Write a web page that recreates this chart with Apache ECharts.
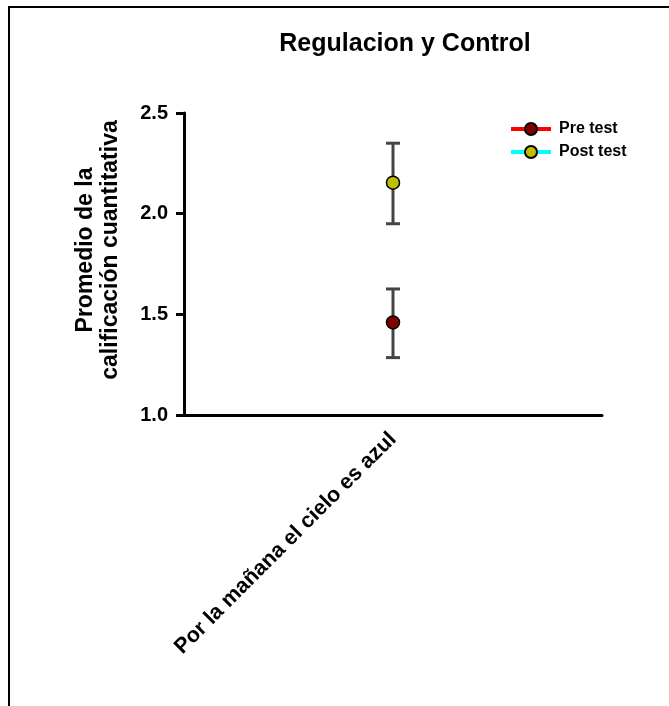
<!DOCTYPE html>
<html>
<head>
<meta charset="utf-8">
<script src="https://cdn.jsdelivr.net/npm/echarts@6/dist/echarts.min.js"></script>
<style>html,body{margin:0;padding:0;background:#fff}#c{width:669px;height:706px}</style>
</head>
<body>
<div id="c"></div>
<script>
const categories = ['Por la mañana el cielo es azul'];
const seriesNames = ['Pre test', 'Post test'];
const preMean = [1.46];
const preLow = [1.285];
const preHigh = [1.626];
const postMean = [2.154];
const postLow = [1.95];
const postHigh = [2.35];
const yTicks = [1.0, 1.5, 2.0, 2.5];

const font = 'Arial, "Liberation Sans", sans-serif';
const chart = echarts.init(document.getElementById('c'));

function errorBar(lows, highs) {
  return {
    type: 'custom',
    z: 1,
    silent: true,
    data: categories.map((c, i) => [i, lows[i], highs[i]]),
    renderItem: function (params, api) {
      const lo = api.coord([api.value(0), api.value(1)]);
      const hi = api.coord([api.value(0), api.value(2)]);
      const w = 7;
      const st = { stroke: '#444444', lineWidth: 3 };
      return {
        type: 'group',
        children: [
          { type: 'line', shape: { x1: lo[0], y1: lo[1], x2: hi[0], y2: hi[1] }, style: st },
          { type: 'line', shape: { x1: lo[0] - w, y1: lo[1], x2: lo[0] + w, y2: lo[1] }, style: st },
          { type: 'line', shape: { x1: hi[0] - w, y1: hi[1], x2: hi[0] + w, y2: hi[1] }, style: st }
        ]
      };
    }
  };
}

chart.setOption({
  animation: false,
  backgroundColor: '#fff',
  title: {
    text: 'Regulacion y Control',
    left: 400, top: 27, textAlign: 'center',
    textStyle: { fontFamily: font, fontWeight: 'bold', fontSize: 25, color: '#000' }
  },
  legend: {
    data: seriesNames,
    orient: 'vertical',
    left: 504, top: 116,
    itemWidth: 40, itemHeight: 15, itemGap: 7,
    lineStyle: { width: 4 },
    textStyle: { fontFamily: font, fontWeight: 'bold', fontSize: 16, color: '#000', padding: [0, 0, 0, 3] }
  },
  graphic: [
    { type: 'polyline', shape: { points: [[9, 706], [9, 7], [669, 7]] }, style: { stroke: '#000', lineWidth: 2, fill: null } },
    { type: 'text', x: 86, y: 250, rotation: Math.PI / 2,
      style: { text: 'Promedio de la', font: 'bold 23px ' + font, fill: '#000', align: 'center', verticalAlign: 'middle' } },
    { type: 'text', x: 111, y: 250, rotation: Math.PI / 2,
      style: { text: 'calificación cuantitativa', font: 'bold 23px ' + font, fill: '#000', align: 'center', verticalAlign: 'middle' } }
  ],
  grid: { left: 184, right: 67, top: 113, bottom: 291 },
  xAxis: {
    type: 'category',
    data: categories,
    boundaryGap: true,
    axisLine: { lineStyle: { color: '#000', width: 3 } },
    axisTick: { alignWithLabel: true, length: 9, lineStyle: { color: '#000', width: 3 } },
    axisLabel: { rotate: 45, margin: 21, fontFamily: font, fontWeight: 'bold', fontSize: 21.5, color: '#000' },
    splitLine: { show: false }
  },
  yAxis: {
    type: 'value',
    min: yTicks[0], max: yTicks[yTicks.length - 1], interval: 0.5,
    axisLine: { show: true, lineStyle: { color: '#000', width: 3 } },
    axisTick: { show: true, length: 8, lineStyle: { color: '#000', width: 3 } },
    axisLabel: { margin: 16, fontFamily: font, fontWeight: 'bold', fontSize: 20, color: '#000',
      formatter: v => v.toFixed(1) },
    splitLine: { show: false }
  },
  series: [
    errorBar(preLow, preHigh),
    errorBar(postLow, postHigh),
    {
      name: 'Pre test', type: 'line', z: 3, data: preMean,
      symbol: 'circle', symbolSize: 13,
      lineStyle: { color: '#ff0000', width: 4 },
      itemStyle: { color: '#800000', borderColor: '#000', borderWidth: 1.5 }
    },
    {
      name: 'Post test', type: 'line', z: 3, data: postMean,
      symbol: 'circle', symbolSize: 13,
      lineStyle: { color: '#00ffff', width: 4 },
      itemStyle: { color: '#bfbf00', borderColor: '#000', borderWidth: 1.5 }
    }
  ]
});
</script>
</body>
</html>
